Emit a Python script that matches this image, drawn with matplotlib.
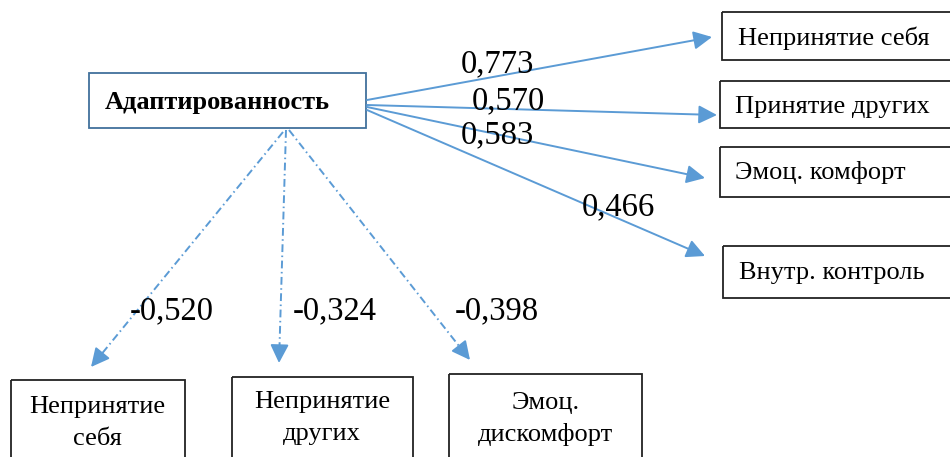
import matplotlib
matplotlib.use("Agg")
import matplotlib.pyplot as plt
from matplotlib.patches import Rectangle, FancyArrowPatch

# ---- data ----
source_label = "Адаптированность"
pos_labels = ["Непринятие себя", "Принятие других", "Эмоц. комфорт", "Внутр. контроль"]
pos_values = ["0,773", "0,570", "0,583", "0,466"]
neg_labels = ["Непринятие\nсебя", "Непринятие\nдругих", "Эмоц.\nдискомфорт"]
neg_values = ["-0,520", "-0,324", "-0,398"]

# ---- layout (pixel coordinates, y downward) ----
W, H = 950, 457
BLUE = "#5B9BD5"
BOXBLUE = "#41719C"
FONT = "Liberation Serif"
ARROW = "-|>,head_length=0.8,head_width=0.4"

fig = plt.figure(figsize=(W / 100, H / 100), dpi=100)
ax = fig.add_axes([0, 0, 1, 1])
ax.set_xlim(0, W)
ax.set_ylim(H, 0)
ax.axis("off")

# main box
ax.add_patch(Rectangle((89, 73), 277, 55, fill=False, ec=BOXBLUE, lw=1.3))
ax.text(105, 102, source_label, ha="left", va="center", fontsize=19,
        fontweight="bold", family=FONT)

# right boxes
rboxes = [(722, 12, 48), (720, 81, 47), (720, 147, 50), (723, 246, 52)]
rtext = [(738, 38), (735, 107), (735, 173), (739, 273)]
rstart = [(367, 100), (367, 105), (367, 107), (367, 110)]
rend = [(712, 37), (717, 115), (705, 178), (705, 256)]
rval_pos = [(497, 64), (508, 101), (497, 135), (618, 207)]

for i, lab in enumerate(pos_labels):
    x, y, h = rboxes[i]
    ax.add_patch(Rectangle((x, y), 260, h, fill=False, ec="#222222", lw=1.3))
    ax.text(rtext[i][0], rtext[i][1], lab, ha="left", va="center", fontsize=19,
            family=FONT)
    ax.add_patch(FancyArrowPatch(rstart[i], rend[i], arrowstyle=ARROW,
                                 mutation_scale=14, color=BLUE, lw=1.4,
                                 shrinkA=0, shrinkB=0))
    ax.text(rval_pos[i][0], rval_pos[i][1], pos_values[i], ha="center",
            va="center", fontsize=23.5, family=FONT)

# bottom boxes
bboxes = [(11, 380, 174), (232, 377, 181), (449, 374, 193)]
btext = [(97, 423), (322, 418), (546, 419)]
bstart = [(283, 132), (286, 130), (289, 130)]
bend = [(91, 367), (279, 363), (470, 360)]
bval_pos = [(172, 311), (335, 311), (497, 311)]

for i, lab in enumerate(neg_labels):
    x, y, w = bboxes[i]
    ax.add_patch(Rectangle((x, y), w, 120, fill=False, ec="#222222", lw=1.3))
    ax.text(btext[i][0], btext[i][1], lab, ha="center", va="center", fontsize=19,
            family=FONT, linespacing=1.55)
    (x0, y0), (x1, y1) = bstart[i], bend[i]
    f = 0.955
    xm, ym = x0 + (x1 - x0) * f, y0 + (y1 - y0) * f
    ax.plot([x0, xm], [y0, ym], color=BLUE, lw=1.4, dashes=(4, 1.8, 0.8, 1.8))
    ax.add_patch(FancyArrowPatch((xm, ym), (x1, y1), arrowstyle=ARROW,
                                 mutation_scale=14, color=BLUE, lw=1.4,
                                 shrinkA=0, shrinkB=0))
    ax.text(bval_pos[i][0], bval_pos[i][1], neg_values[i], ha="center",
            va="center", fontsize=23.5, family=FONT)

fig.savefig("out.png", dpi=100)
